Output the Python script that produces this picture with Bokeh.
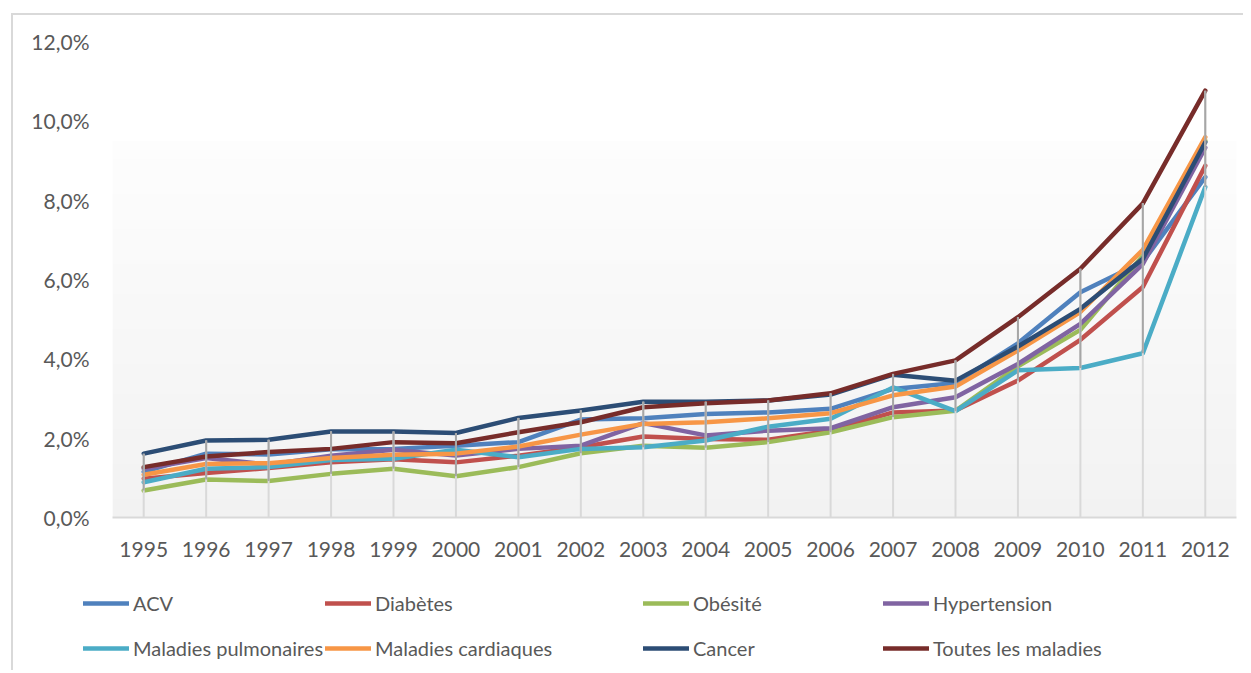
import numpy as np
from bokeh.plotting import figure
from bokeh.layouts import column
from bokeh.models import (FixedTicker, CustomJSTickFormatter, Legend, LegendItem,
                          Range1d)
from bokeh.embed import file_html
from bokeh.resources import INLINE

years = list(range(1995, 2013))

acv = [1.15, 1.61, 1.59, 1.72, 1.73, 1.81, 1.90, 2.47, 2.50, 2.61, 2.65, 2.74, 3.24, 3.39, 4.39, 5.68, 6.45, 8.58]
diabetes = [0.98, 1.12, 1.25, 1.39, 1.47, 1.39, 1.56, 1.77, 2.04, 1.98, 1.96, 2.19, 2.65, 2.70, 3.45, 4.48, 5.81, 8.87]
obesite = [0.68, 0.96, 0.92, 1.10, 1.23, 1.04, 1.27, 1.62, 1.81, 1.76, 1.90, 2.15, 2.53, 2.69, 3.81, 4.73, 6.60, 9.50]
hypertension = [1.23, 1.50, 1.33, 1.56, 1.71, 1.56, 1.73, 1.81, 2.38, 2.07, 2.19, 2.25, 2.78, 3.03, 3.87, 4.88, 6.39, 9.32]
pulmonaires = [0.89, 1.23, 1.27, 1.45, 1.48, 1.71, 1.52, 1.73, 1.77, 1.94, 2.29, 2.49, 3.28, 2.68, 3.71, 3.77, 4.14, 8.33]
cardiaques = [1.08, 1.35, 1.37, 1.50, 1.58, 1.61, 1.79, 2.09, 2.36, 2.40, 2.50, 2.63, 3.08, 3.30, 4.21, 5.18, 6.75, 9.59]
cancer = [1.61, 1.94, 1.96, 2.17, 2.17, 2.13, 2.51, 2.70, 2.92, 2.92, 2.95, 3.10, 3.60, 3.45, 4.31, 5.26, 6.52, 9.46]
toutes = [1.27, 1.54, 1.65, 1.73, 1.90, 1.87, 2.15, 2.40, 2.78, 2.88, 2.95, 3.13, 3.62, 3.96, 5.05, 6.27, 7.92, 10.76]

names = ["ACV", "Diabètes", "Obésité", "Hypertension",
         "Maladies pulmonaires", "Maladies cardiaques", "Cancer", "Toutes les maladies"]
values = [acv, diabetes, obesite, hypertension, pulmonaires, cardiaques, cancer, toutes]
colors = ["#4F81BD", "#C0504D", "#9BBB59", "#8064A2",
          "#4BACC6", "#F79646", "#2C4D75", "#772C2A"]
y_ticks = [0, 2, 4, 6, 8, 10, 12]

FONT = "Lato"
TXT = "#595959"
W = 1230

p = figure(width=W, height=560, output_backend="svg", toolbar_location=None,
           x_range=Range1d(1994.5, 2012.5), y_range=Range1d(0, 12),
           min_border_left=99, min_border_right=W - 99 - 1124, min_border_top=26,
           min_border_bottom=58)
p.frame_align = False
p.outline_line_color = None
p.grid.visible = False
p.background_fill_color = "white"
p.border_fill_color = "white"

# plot-area gradient fill
n = 64
grad = np.zeros((n, 1), dtype=np.uint32)
view = grad.view(dtype=np.uint8).reshape((n, 1, 4))
for i in range(n):
    t = i / (n - 1)  # 0 bottom -> 1 top
    c = int(round(242 + (253 - 242) * t))
    view[i, 0, :] = [c, c, c, 255]
p.image_rgba(image=[grad], x=1994.5, y=0, dw=18, dh=9.48)

# lines
for name, vals, col in zip(names, values, colors):
    p.line(years, vals, line_width=4.5, color=col, line_join="round", line_cap="round")

arr = np.array(values)
mins = arr.min(axis=0)
maxs = arr.max(axis=0)
p.segment(x0=years, y0=[0] * len(years), x1=years, y1=maxs, color="#D9D9D9", line_width=2)
p.segment(x0=years, y0=mins, x1=years, y1=maxs, color="#A6A6A6", line_width=2)

# axes
p.xaxis.ticker = FixedTicker(ticks=years)
p.xaxis.axis_line_color = "#D9D9D9"
p.xaxis.axis_line_width = 2
p.xaxis.major_tick_line_color = None
p.xaxis.major_tick_out = 0
p.xaxis.major_tick_in = 0
p.xaxis.minor_tick_line_color = None
p.xaxis.major_label_text_font = FONT
p.xaxis.major_label_text_font_size = "21px"
p.xaxis.major_label_text_color = TXT
p.xaxis.major_label_standoff = 24

p.yaxis.ticker = FixedTicker(ticks=y_ticks)
p.yaxis.formatter = CustomJSTickFormatter(code="return tick.toFixed(1).replace('.', ',') + '%';")
p.yaxis.axis_line_color = None
p.yaxis.major_tick_line_color = None
p.yaxis.major_tick_out = 0
p.yaxis.major_tick_in = 0
p.yaxis.minor_tick_line_color = None
p.yaxis.major_label_text_font = FONT
p.yaxis.major_label_text_font_size = "21px"
p.yaxis.major_label_text_color = TXT
p.yaxis.major_label_standoff = 23

# legend strip (4 columns x 2 rows) in its own canvas below the chart;
# its keys reuse the series data, which lie outside this canvas' ranges
LH = 95
lg = figure(width=W, height=LH, output_backend="svg", toolbar_location=None,
            x_axis_type=None, y_axis_type=None, x_range=Range1d(0, 1), y_range=Range1d(0, 1),
            min_border=0, min_border_left=0, min_border_right=0,
            min_border_top=0, min_border_bottom=0)
lg.frame_align = False
lg.outline_line_color = None
lg.background_fill_color = "white"
lg.border_fill_color = "white"
key_renderers = [lg.line(years, vals, line_width=4.5, color=col, line_cap="round")
                 for vals, col in zip(values, colors)]
cols_x = [70, 312, 630, 870]
for c in range(4):
    items = [LegendItem(label=names[c], renderers=[key_renderers[c]]),
             LegendItem(label=names[c + 4], renderers=[key_renderers[c + 4]])]
    leg = Legend(items=items, location=(cols_x[c], 10), orientation="vertical",
                 label_text_font=FONT, label_text_font_size="20px",
                 label_text_color=TXT, glyph_width=46, glyph_height=20,
                 label_height=20, label_standoff=4, spacing=21, padding=0,
                 margin=0, border_line_color=None, background_fill_alpha=0)
    lg.add_layout(leg)

layout = column(p, lg, spacing=0)
layout.styles = {"margin-left": "11px", "margin-top": "13px",
                 "border-left": "2px solid #D9D9D9", "border-top": "2px solid #D9D9D9"}

open("out.html", "w").write(file_html(layout, INLINE))
